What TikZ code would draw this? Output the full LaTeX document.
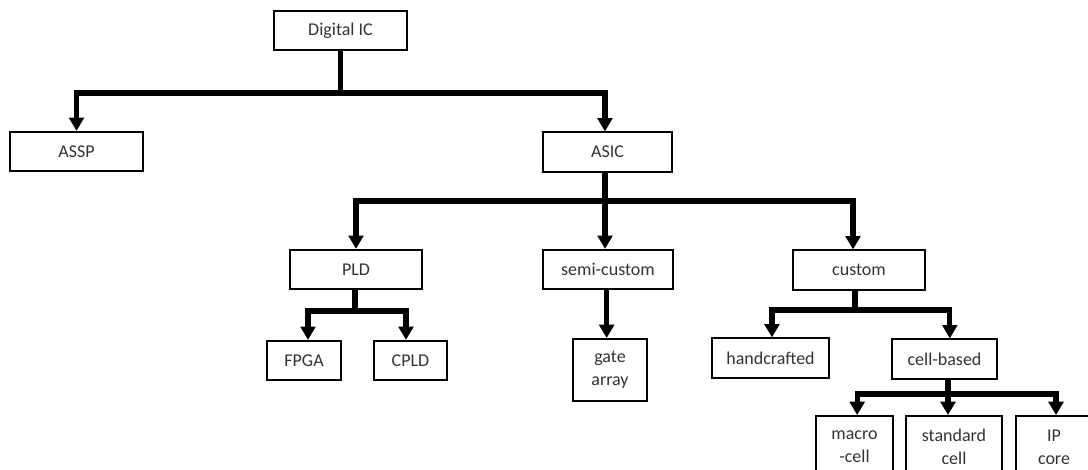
\documentclass[tikz,border=0pt]{standalone}
\usepackage{fontspec}
\setmainfont{Carlito}
\usetikzlibrary{arrows.meta}

\tikzset{
  box/.style={draw, line width=1.4pt, inner sep=0pt, align=center,
    minimum height=29.5pt, text=black!80,
    font=\fontsize{13.5}{17.25}\selectfont},
  tallbox/.style={box, minimum height=46.5pt},
  bus/.style={line width=3.9pt},
  arr/.style={bus, -{Triangle[width=11pt,length=10pt]}},
}

\begin{document}
\begin{tikzpicture}[x=0.75pt,y=-0.75pt]
\useasboundingbox (0,0) rectangle (1088,470);

% tree nodes
\node[box, minimum width=99.75pt] (dig) at (340.5,30.5) {Digital IC};
\node[box, minimum width=99.75pt] (assp) at (76.5,151.5) {ASSP};
\node[box, minimum width=96.75pt] (asic) at (607.5,152) {ASIC};

\node[box, minimum width=99pt] (pld) at (356,269.5) {PLD};
\node[box, minimum width=97.5pt] (semi) at (608,269.5) {semi-custom};
\node[box, minimum width=99pt] (custom) at (859,270) {custom};

\node[box, minimum width=55.5pt] (fpga) at (304,360.5) {FPGA};
\node[box, minimum width=54.75pt] (cpld) at (410.5,360.5) {CPLD};
\node[tallbox, minimum width=55.5pt] (gate) at (610,370) {gate\\array};
\node[box, minimum width=87.75pt] (hand) at (770.5,358) {handcrafted};
\node[box, minimum width=78.75pt] (cb) at (944.5,359) {cell-based};

\node[tallbox, minimum width=57.75pt] (macro) at (854.5,447) {macro\\-cell};
\node[tallbox, minimum width=72pt] (std) at (954,447) {standard\\cell};
\node[tallbox, minimum width=57pt] (ip) at (1054,447) {IP\\core};

% Digital IC branches
\coordinate (j1) at (dig.south |- 0,93);
\draw[bus] (dig.south) -- (j1);
\draw[arr] (j1) -| (assp.north);
\draw[arr] (j1) -| ([xshift=-1.9pt]asic.north);

% ASIC branches
\coordinate (j2) at ([xshift=-1.9pt]asic.south |- 0,201);
\draw[bus] ([xshift=-1.9pt]asic.south) -- (j2);
\draw[arr] (j2) -| (pld.north);
\draw[arr] (j2) -| ([xshift=-2.25pt]semi.north);
\draw[arr] (j2) -| ([xshift=-4.5pt]custom.north);

% PLD branches
\coordinate (j3) at ([xshift=-0.75pt]pld.south |- 0,311);
\draw[bus] ([xshift=-0.75pt]pld.south) -- (j3);
\draw[arr] (j3) -| ([xshift=3pt]fpga.north);
\draw[arr] (j3) -| ([xshift=-3.4pt]cpld.north);

% semi-custom branch
\draw[arr] ([xshift=-1pt]semi.south) -- ([xshift=-1pt]semi.south |- gate.north);

% custom branches
\coordinate (j4) at ([xshift=-3pt]custom.south |- 0,310);
\draw[bus] ([xshift=-3pt]custom.south) -- (j4);
\draw[arr] (j4) -| ([xshift=1.1pt]hand.north);
\draw[arr] (j4) -| ([xshift=4pt]cb.north);

% cell-based branches
\coordinate (j5) at ([xshift=2.6pt]cb.south |- 0,394);
\draw[bus] ([xshift=2.6pt]cb.south) -- (j5);
\draw[arr] (j5) -| ([xshift=2pt]macro.north);
\draw[arr] (j5) -| ([xshift=-4.5pt]std.north);
\draw[arr] (j5) -| ([xshift=1.5pt]ip.north);
\end{tikzpicture}
\end{document}
